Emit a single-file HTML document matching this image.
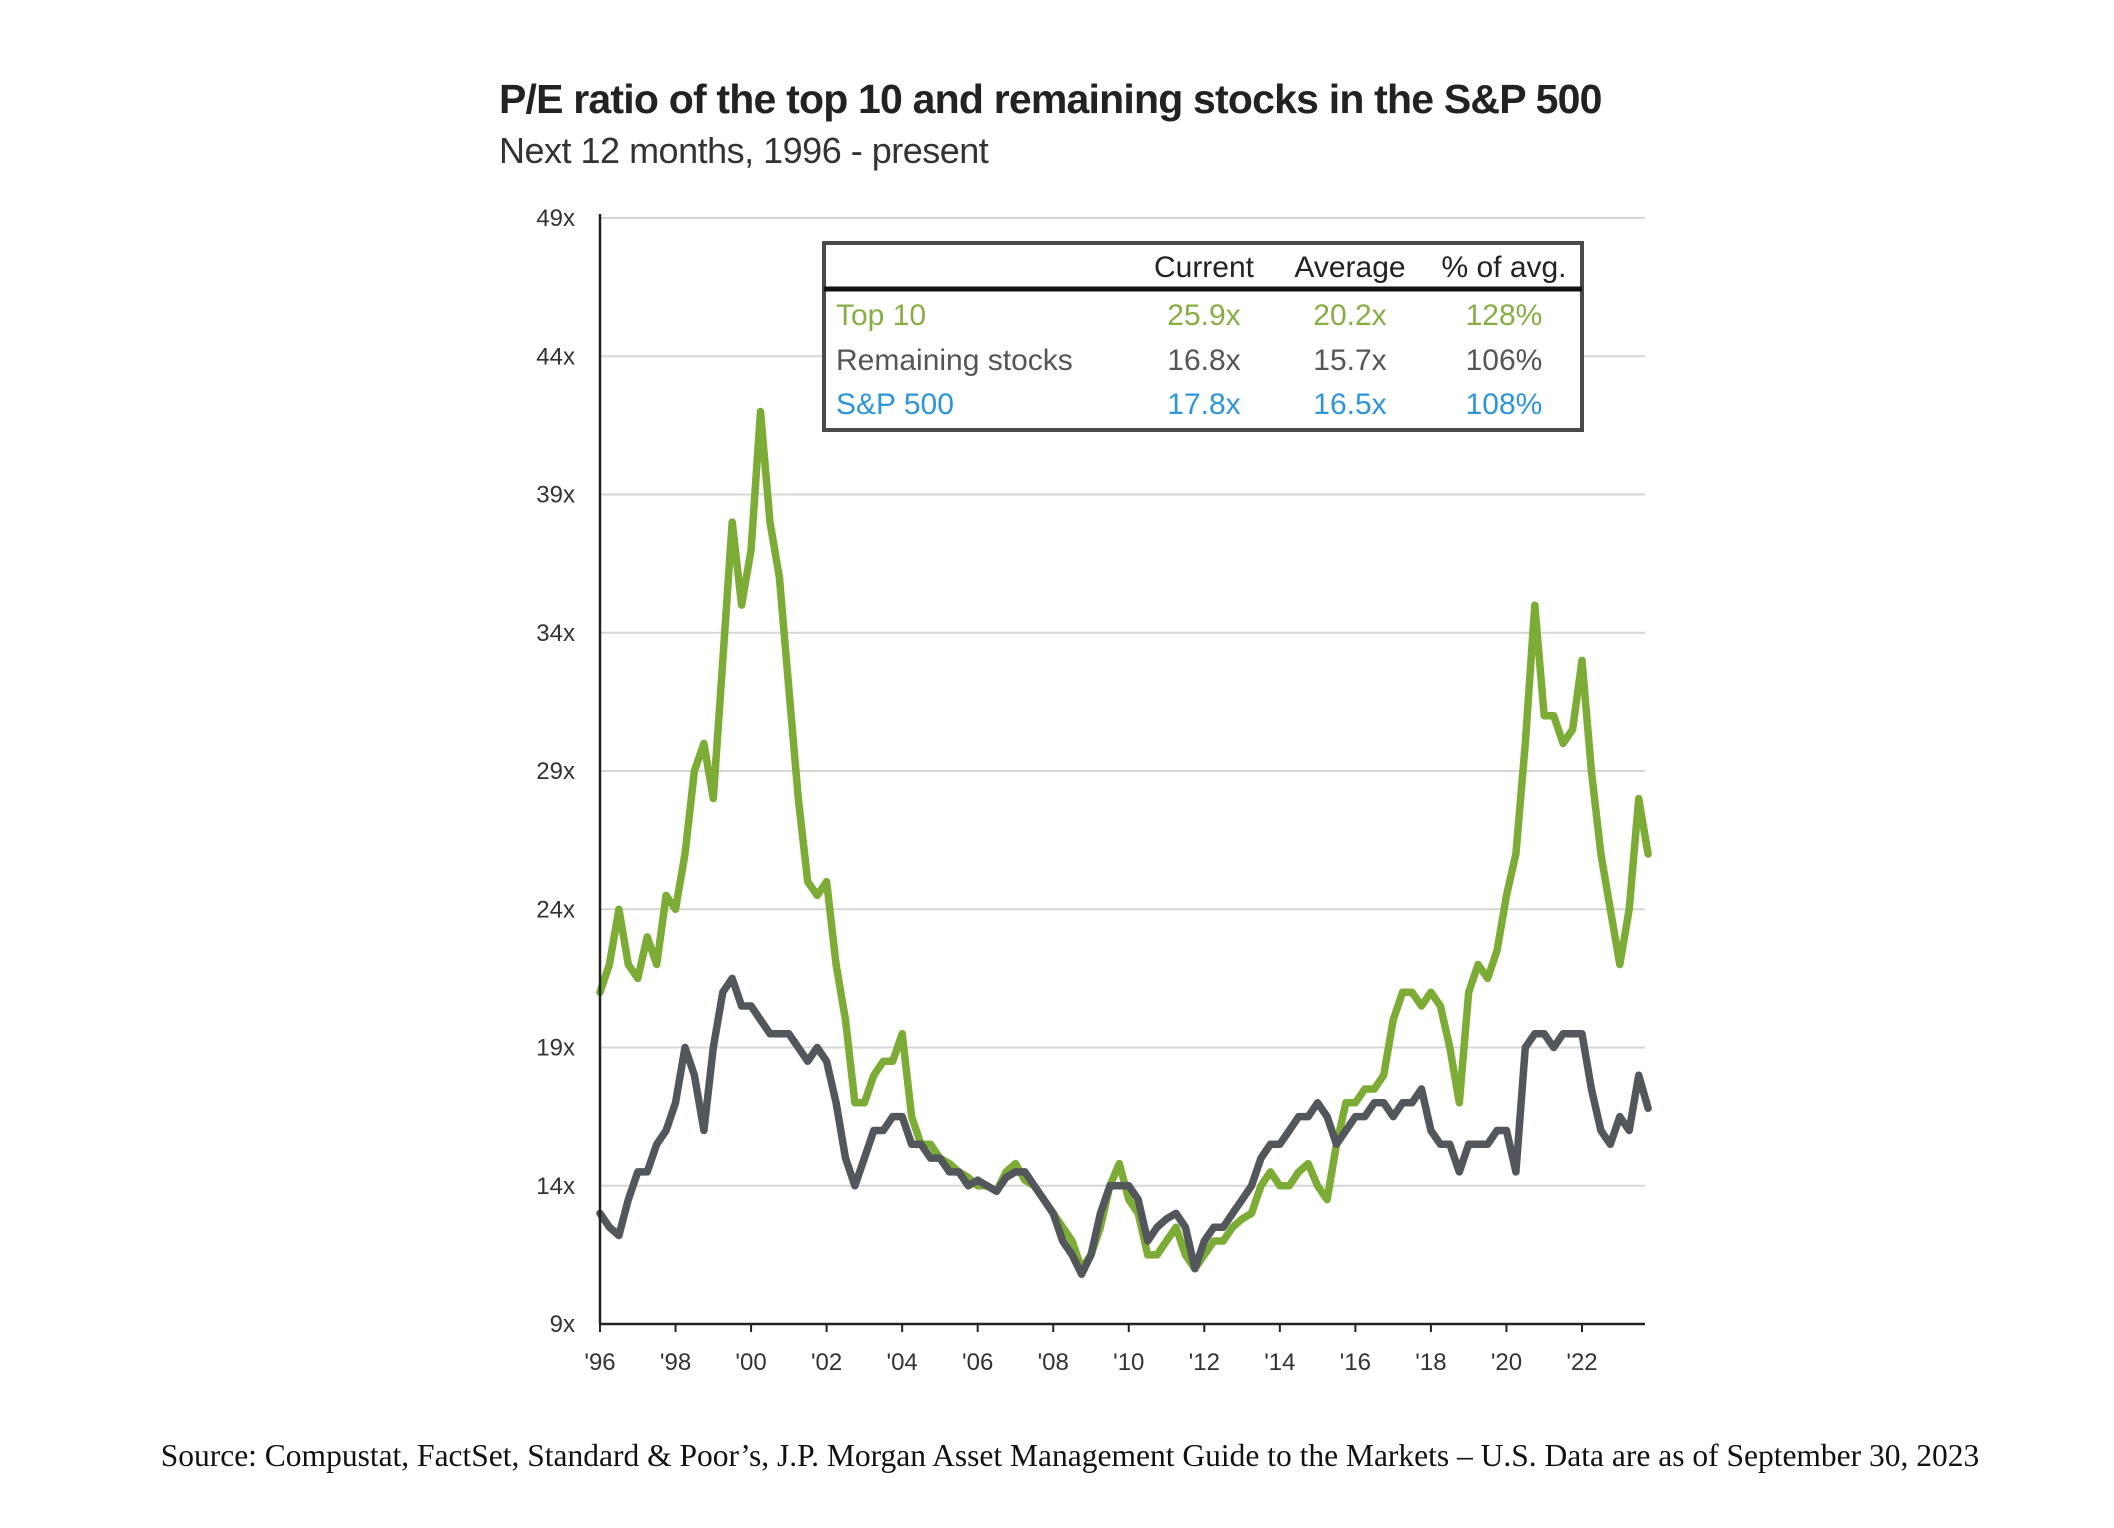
<!DOCTYPE html>
<html><head><meta charset="utf-8">
<style>
html,body{margin:0;padding:0;background:#fff;}
body{width:2114px;height:1528px;overflow:hidden;position:relative;font-family:"Liberation Sans",sans-serif;}
#title{position:absolute;left:499px;top:76px;font-size:41px;font-weight:bold;color:#222;letter-spacing:-0.8px;}
#subtitle{position:absolute;left:499px;top:130px;font-size:36px;color:#333;letter-spacing:-0.5px;}
#source{position:absolute;left:0;width:2140px;text-align:center;top:1438px;font-family:"Liberation Serif",serif;font-size:31.5px;color:#111;}
svg{position:absolute;left:0;top:0;}
</style></head>
<body>
<div id="title">P/E ratio of the top 10 and remaining stocks in the S&amp;P 500</div>
<div id="subtitle">Next 12 months, 1996 - present</div>
<svg id="chart" width="2114" height="1528"></svg>
<div id="source">Source: Compustat, FactSet, Standard &amp; Poor’s, J.P. Morgan Asset Management Guide to the Markets – U.S. Data are as of September 30, 2023</div>
<script>
const yTicks=[9,14,19,24,29,34,39,44,49];
const xTickYears=[1996,1998,2000,2002,2004,2006,2008,2010,2012,2014,2016,2018,2020,2022];
const xTickLabels=["'96","'98","'00","'02","'04","'06","'08","'10","'12","'14","'16","'18","'20","'22"];
const startYear=1996;
const top10=[21,22,24,22, 21.5,23,22,24.5, 24,26,29,30, 28,33,38,35, 37,42,38,36, 32,28,25,24.5, 25,22,20,17, 17,18,18.5,18.5, 19.5,16.5,15.5,15.5, 15,14.8,14.5,14.3, 14,14,13.8,14.5, 14.8,14.2,14,13.5, 13,12.5,12,11, 11.5,12.5,14,14.8, 13.5,13,11.5,11.5, 12,12.5,11.5,11, 11.5,12,12,12.5, 12.8,13,14,14.5, 14,14,14.5,14.8, 14,13.5,15.5,17, 17,17.5,17.5,18, 20,21,21,20.5, 21,20.5,19,17, 21,22,21.5,22.5, 24.5,26,30,35, 31,31,30,30.5, 33,29,26,24, 22,24,28,26];
const remaining=[13,12.5,12.2,13.5, 14.5,14.5,15.5,16, 17,19,18,16, 19,21,21.5,20.5, 20.5,20,19.5,19.5, 19.5,19,18.5,19, 18.5,17,15,14, 15,16,16,16.5, 16.5,15.5,15.5,15, 15,14.5,14.5,14, 14.2,14,13.8,14.3, 14.5,14.5,14,13.5, 13,12,11.5,10.8, 11.5,13,14,14, 14,13.5,12,12.5, 12.8,13,12.5,11, 12,12.5,12.5,13, 13.5,14,15,15.5, 15.5,16,16.5,16.5, 17,16.5,15.5,16, 16.5,16.5,17,17, 16.5,17,17,17.5, 16,15.5,15.5,14.5, 15.5,15.5,15.5,16, 16,14.5,19,19.5, 19.5,19,19.5,19.5, 19.5,17.5,16,15.5, 16.5,16,18,16.8];
const tableCols=["Current","Average","% of avg."];
const tableRows=["Top 10","Remaining stocks","S&P 500"];
const tableVals=[["25.9x","20.2x","128%"],["16.8x","15.7x","106%"],["17.8x","16.5x","108%"]];

const NS="http://www.w3.org/2000/svg";
const svg=document.getElementById('chart');
const X0=600,X1=1645,Y0=1324,Y1=218;
const xs=yr=>X0+(yr-1996)*(1582-600)/26;
const ys=v=>Y0-(v-9)*(Y0-Y1)/40;
function mk(t,a){const e=document.createElementNS(NS,t);for(const k in a)e.setAttribute(k,a[k]);svg.appendChild(e);return e;}
yTicks.forEach((v,i)=>{
 if(v>9){const g=mk('line',{x1:X0,x2:X1,y1:ys(v),y2:ys(v),stroke:'#d6d6d6','stroke-width':2});
 
 }
 const t=mk('text',{x:575,y:ys(v)+8,'text-anchor':'end','font-size':24,fill:'#333','font-family':'Liberation Sans, sans-serif'});
 t.textContent=v+'x';
 
 
});
xTickYears.forEach((yr,i)=>{
 const t=mk('text',{x:xs(yr),y:1370,'text-anchor':'middle','font-size':24,fill:'#333','font-family':'Liberation Sans, sans-serif'});
 t.textContent=xTickLabels[i];
 
 
 const tk=mk('line',{x1:xs(yr),x2:xs(yr),y1:Y0,y2:Y0+8,stroke:'#222','stroke-width':2});
 
 
});
function line(data,color,name){
 const pts=data.map((v,i)=>xs(startYear+i/4).toFixed(1)+','+ys(v).toFixed(1)).join(' ');
 const p=mk('polyline',{points:pts,fill:'none',stroke:color,'stroke-width':7.5,'stroke-linejoin':'round','stroke-linecap':'round'});
 
 
}
line(top10,'#7cac35','top10-line');
line(remaining,'#53575c','remaining-stocks-line');
const ax=mk('line',{x1:X0,x2:X0,y1:Y1-4,y2:Y0,stroke:'#222','stroke-width':2.5});


const bx=mk('line',{x1:X0,x2:X1,y1:Y0,y2:Y0,stroke:'#222','stroke-width':2.5});


const box=mk('rect',{x:824,y:243,width:758,height:187,fill:'#fff',stroke:'#4a4a4a','stroke-width':4});


const hl=mk('line',{x1:824,x2:1582,y1:289,y2:289,stroke:'#111','stroke-width':5});


const colX=[1204,1350,1504];
tableCols.forEach((c,i)=>{
 const t=mk('text',{x:colX[i],y:277,'text-anchor':'middle','font-size':30,fill:'#222','font-family':'Liberation Sans, sans-serif'});
 t.textContent=c;
 
 
});
const rowColors=['#86ae45','#555','#2e96d8'];
const rowY=[325,370,414];
tableRows.forEach((r,i)=>{
 const t=mk('text',{x:836,y:rowY[i],'font-size':30,fill:rowColors[i],'font-family':'Liberation Sans, sans-serif'});
 t.textContent=r;
 
 
 tableVals[i].forEach((v,j)=>{
  const c=mk('text',{x:colX[j],y:rowY[i],'text-anchor':'middle','font-size':30,fill:rowColors[i],'font-family':'Liberation Sans, sans-serif'});
  c.textContent=v;
  
  
 });
});
</script>
</body></html>
